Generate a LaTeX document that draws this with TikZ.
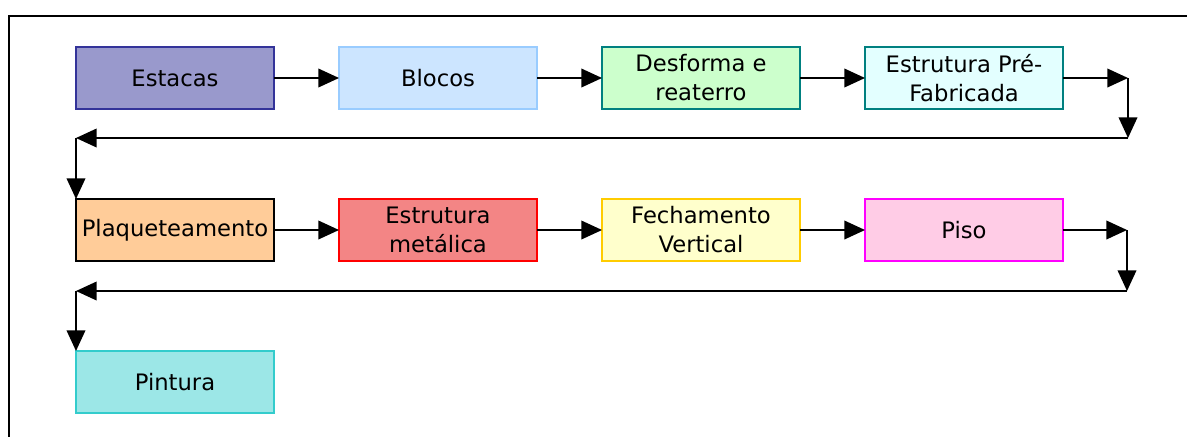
\documentclass[tikz,border=0pt]{standalone}
\usepackage{fontspec}
\setmainfont{DejaVu Sans}
\usepackage{xcolor}
\usepackage{tikz}
\usetikzlibrary{arrows.meta,positioning}
\usetikzlibrary{calc}

\definecolor{estFill}{HTML}{9999CC}
\definecolor{estLine}{HTML}{333399}
\definecolor{bloFill}{HTML}{CCE5FF}
\definecolor{bloLine}{HTML}{99CCFF}
\definecolor{desFill}{HTML}{CCFFCC}
\definecolor{desLine}{HTML}{008080}
\definecolor{preFill}{HTML}{E3FFFF}
\definecolor{plaFill}{HTML}{FFCC99}
\definecolor{metFill}{HTML}{F38585}
\definecolor{metLine}{HTML}{FF0000}
\definecolor{fecFill}{HTML}{FFFFCC}
\definecolor{fecLine}{HTML}{FFCC00}
\definecolor{pisFill}{HTML}{FFCCE6}
\definecolor{pisLine}{HTML}{FF00FF}
\definecolor{pinFill}{HTML}{9CE7E7}
\definecolor{pinLine}{HTML}{33CCCC}

\begin{document}
\begin{tikzpicture}[
  x=0.75pt, y=-0.75pt,
  node distance={67.5pt and 48.75pt},
  box/.style={draw, line width=2.2pt, minimum height=46.5pt, minimum width=148.5pt, inner sep=1pt, outer sep=0pt, align=center, font=\fontsize{17}{21.75}\selectfont},
  arr/.style={-{Triangle[length=15.5pt,width=14pt]}, line width=1.2pt}
]
  \useasboundingbox (0,0) rectangle (1187,437);
  \draw[line width=1.5pt] (1187,16) -- (9,16) -- (9,437);

  % first row
  \node[box, fill=estFill, draw=estLine] (est) at (175,78) {Estacas};
  \node[box, fill=bloFill, draw=bloLine, right=of est] (blo) {Blocos};
  \node[box, fill=desFill, draw=desLine, right=of blo] (des) {Desforma e\\reaterro};
  \node[box, fill=preFill, draw=desLine, right=of des] (pre) {Estrutura Pré-\\Fabricada};

  % second row
  \node[box, fill=plaFill, draw=black, line width=0.9pt, below=of est] (pla) {Plaqueteamento};
  \node[box, fill=metFill, draw=metLine, right=of pla] (met) {Estrutura\\metálica};
  \node[box, fill=fecFill, draw=fecLine, right=of met] (fec) {Fechamento\\Vertical};
  \node[box, fill=pisFill, draw=pisLine, right=of fec] (pis) {Piso};

  % third row
  \node[box, fill=pinFill, draw=pinLine, below=of pla] (pin) {Pintura};

  \coordinate (r1) at ($(pre.east)+(65,0)$);
  \coordinate (r1d) at ($(r1)+(0,60)$);
  \coordinate (l1) at (r1d -| pla.north west);
  \coordinate (r2) at ($(pis.east)+(64,0)$);
  \coordinate (r2d) at ($(r2)+(0,61)$);
  \coordinate (l2) at (r2d -| pin.north west);

  \draw[arr] (est) -- (blo);
  \draw[arr] (blo) -- (des);
  \draw[arr] (des) -- (pre);
  \draw[arr] (pre) -- (r1);
  \draw[arr] (r1) -- (r1d);
  \draw[arr] (r1d) -- (l1);
  \draw[arr] (l1) -- (pla.north west);

  \draw[arr] (pla) -- (met);
  \draw[arr] (met) -- (fec);
  \draw[arr] (fec) -- (pis);
  \draw[arr] (pis) -- (r2);
  \draw[arr] (r2) -- (r2d);
  \draw[arr] (r2d) -- (l2);
  \draw[arr] (l2) -- (pin.north west);
\end{tikzpicture}
\end{document}
